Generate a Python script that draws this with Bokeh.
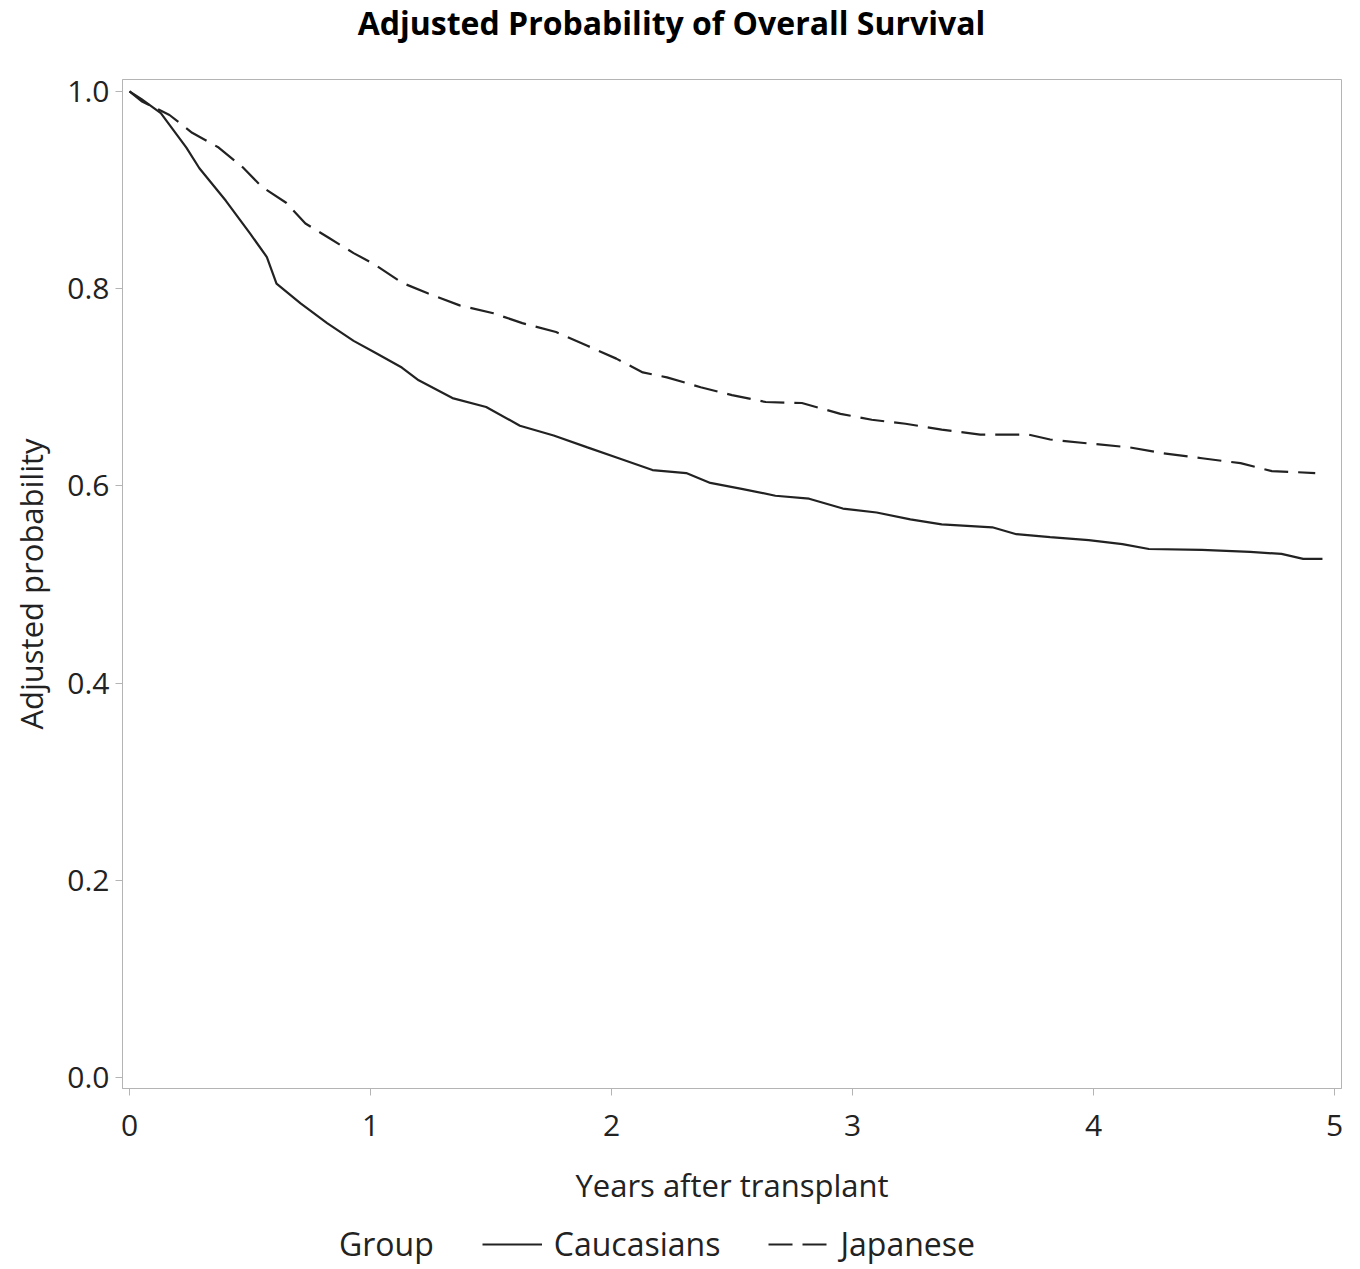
from bokeh.plotting import figure
from bokeh.layouts import column
from bokeh.models import Range1d, Legend, LegendItem, Label, FixedTicker
from bokeh.embed import file_html
from bokeh.resources import INLINE

# Data (years after transplant, adjusted probability)
cauc_years = [0.0, 0.05, 0.13, 0.236, 0.29, 0.40, 0.50, 0.57, 0.61, 0.71, 0.82, 0.93, 1.02,
              1.13, 1.20, 1.34, 1.48, 1.62, 1.76, 1.90, 2.03, 2.17, 2.31, 2.41, 2.54, 2.68,
              2.82, 2.96, 3.10, 3.24, 3.37, 3.58, 3.68, 3.82, 3.98, 4.12, 4.23, 4.45, 4.65,
              4.78, 4.87, 4.95]
cauc_prob = [1.0, 0.992, 0.978, 0.943, 0.922, 0.889, 0.856, 0.832, 0.805, 0.785, 0.765, 0.747, 0.735,
             0.720, 0.707, 0.689, 0.680, 0.661, 0.651, 0.639, 0.628, 0.616, 0.613, 0.603, 0.597, 0.590,
             0.587, 0.577, 0.573, 0.566, 0.561, 0.558, 0.551, 0.548, 0.545, 0.541, 0.536, 0.535, 0.533,
             0.531, 0.526, 0.526]

jap_years = [0.0, 0.05, 0.166, 0.26, 0.37, 0.47, 0.55, 0.65, 0.73, 0.83, 0.93, 1.02, 1.13, 1.24,
             1.37, 1.51, 1.63, 1.77, 1.90, 2.02, 2.13, 2.23, 2.37, 2.50, 2.64, 2.79, 2.95, 3.08,
             3.22, 3.37, 3.53, 3.73, 3.82, 3.98, 4.15, 4.29, 4.45, 4.61, 4.74, 4.92]
jap_prob = [1.0, 0.990, 0.976, 0.958, 0.943, 0.923, 0.903, 0.887, 0.866, 0.851, 0.836, 0.824, 0.806, 0.795,
            0.783, 0.775, 0.765, 0.756, 0.742, 0.729, 0.715, 0.710, 0.700, 0.692, 0.685, 0.684, 0.673, 0.667,
            0.663, 0.657, 0.652, 0.652, 0.647, 0.643, 0.639, 0.633, 0.628, 0.623, 0.615, 0.613]

x_ticks = [0, 1, 2, 3, 4, 5]
y_ticks = [0.0, 0.2, 0.4, 0.6, 0.8, 1.0]
y_tick_labels = {0.0: "0.0", 0.2: "0.2", 0.4: "0.4", 0.6: "0.6", 0.8: "0.8", 1.0: "1.0"}
series_names = ["Caucasians", "Japanese"]
legend_title = "Group"

FONT = "Open Sans"
INK = "#222222"
GRAY = "#b4b4b4"
TOTAL_W = 1350
FRAME_W, FRAME_H = 1219, 1009
STYLE_C = dict(line_color=INK, line_width=2.2)
STYLE_J = dict(line_color=INK, line_width=2.2, line_dash="24 10")


def blank_strip(height, y_range):
    f = figure(width=TOTAL_W, height=height, output_backend="svg", toolbar_location=None,
               x_range=Range1d(-0.029, 5.029), y_range=y_range, min_border=0)
    f.axis.visible = False
    f.grid.visible = False
    f.outline_line_color = None
    f.background_fill_color = "white"
    f.border_fill_color = "white"
    return f


# ---- title strip (frame aligned with the main plot's frame) ----
title_fig = blank_strip(65, Range1d(0, 1))
title_fig.add_layout(Label(x=549, y=43, x_units="screen", y_units="screen",
                           text="Adjusted Probability of Overall Survival",
                           text_align="center", text_baseline="middle",
                           text_font=FONT, text_font_size="32px", text_font_style="bold",
                           text_color="black"))

# ---- main plot ----
p = figure(frame_width=FRAME_W, frame_height=FRAME_H, output_backend="svg", toolbar_location=None,
           x_range=Range1d(-0.029, 5.029), y_range=Range1d(-0.011, 1.012),
           min_border_left=122, min_border_right=6, min_border_top=14, min_border_bottom=0)
p.background_fill_color = "white"
p.border_fill_color = "white"
p.outline_line_color = GRAY
p.outline_line_width = 1
p.xgrid.visible = False
p.ygrid.visible = False

for ax in (p.xaxis[0], p.yaxis[0]):
    ax.axis_line_color = GRAY
    ax.major_tick_line_color = GRAY
    ax.minor_tick_line_color = None
    ax.major_tick_out = 7
    ax.major_tick_in = 0
    ax.major_label_text_font = FONT
    ax.major_label_text_font_size = "30px"
    ax.major_label_text_color = INK
    ax.axis_label_text_font = FONT
    ax.axis_label_text_font_size = "31px"
    ax.axis_label_text_font_style = "normal"
    ax.axis_label_text_color = INK

p.xaxis.ticker = FixedTicker(ticks=x_ticks)
p.yaxis.ticker = FixedTicker(ticks=y_ticks)
p.yaxis.major_label_overrides = y_tick_labels
p.xaxis.axis_label = "Years after transplant"
p.yaxis.axis_label = "Adjusted probability"
p.xaxis.major_label_standoff = 19
p.xaxis.axis_label_standoff = 25
p.yaxis.major_label_standoff = 6
p.yaxis.axis_label_standoff = 12

p.line(cauc_years, cauc_prob, **STYLE_C)
p.line(jap_years, jap_prob, **STYLE_J)

# ---- legend strip: its y range lies above the data, so its lines only show as legend samples ----
leg_fig = blank_strip(57, Range1d(10, 11))
g_r = leg_fig.line(cauc_years, cauc_prob, line_alpha=0)
c_r = leg_fig.line(cauc_years, cauc_prob, **STYLE_C)
j_r = leg_fig.line(jap_years, jap_prob, **STYLE_J)
legend = Legend(items=[LegendItem(label=legend_title, renderers=[g_r]),
                       LegendItem(label=series_names[0], renderers=[c_r]),
                       LegendItem(label=series_names[1], renderers=[j_r])],
                orientation="horizontal", location=(145, 0),
                label_text_font=FONT, label_text_font_size="32px", label_text_color=INK,
                glyph_width=60, label_standoff=12, spacing=48,
                border_line_color=None, background_fill_alpha=0, margin=0, padding=0)
leg_fig.add_layout(legend)

layout = column(title_fig, p, leg_fig, spacing=0)
open("out.html", "w").write(file_html(layout, INLINE))
